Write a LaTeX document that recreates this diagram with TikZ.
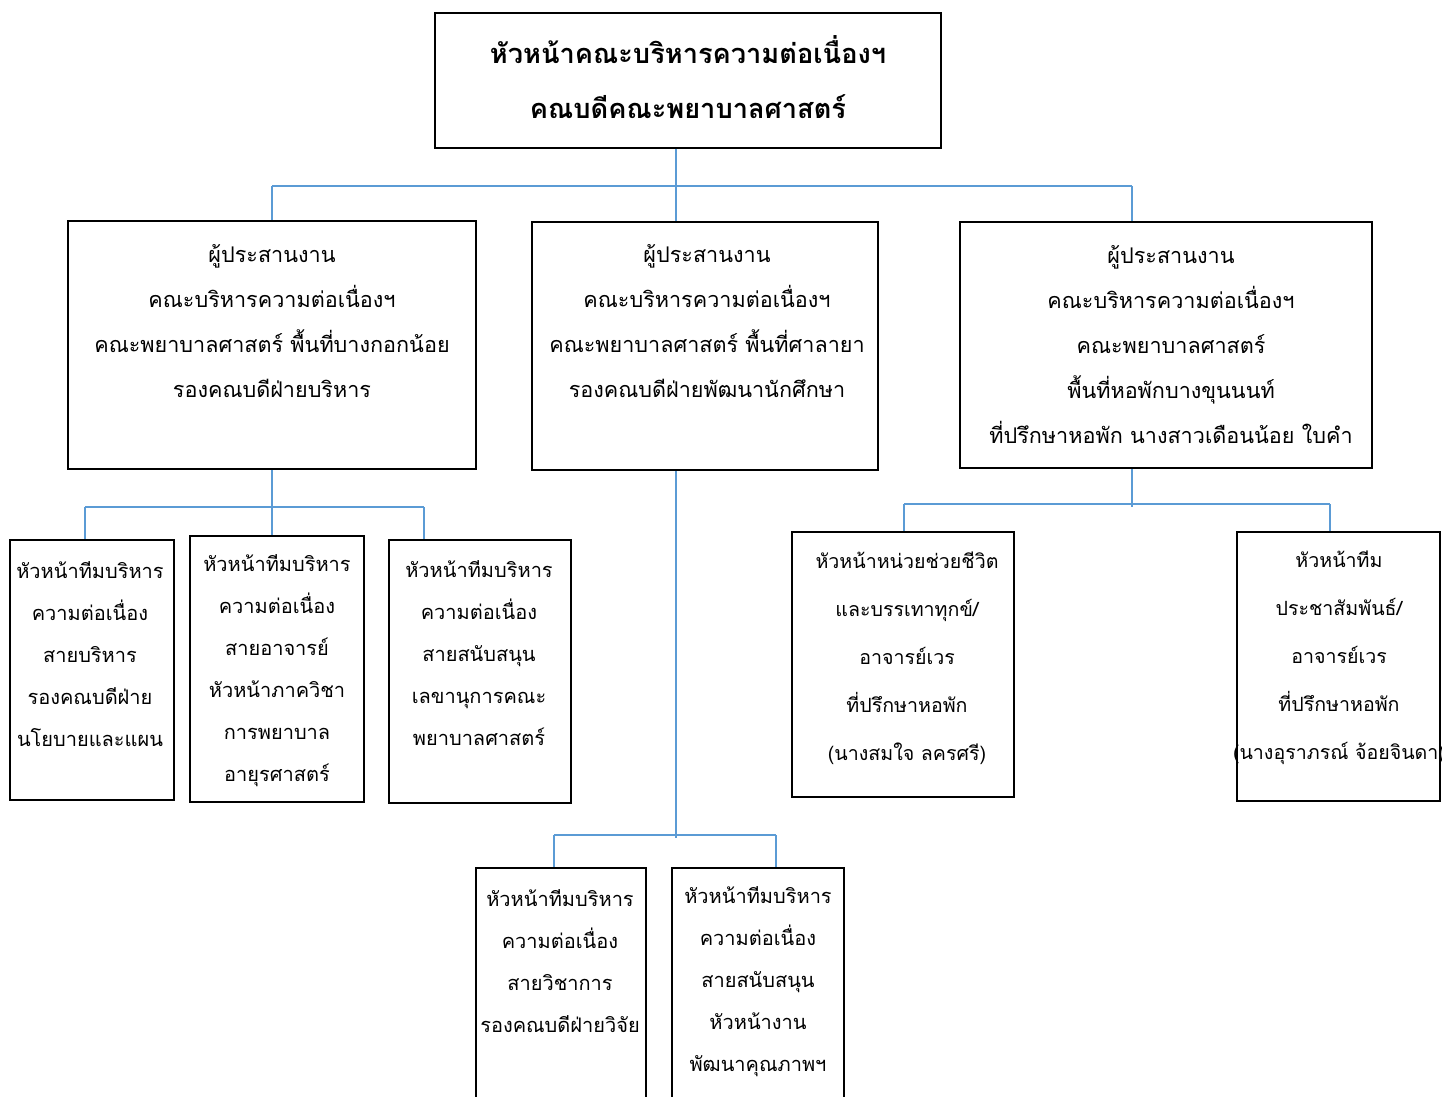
\documentclass[tikz,border=0pt]{standalone}
\usepackage{xcolor}
\usepackage{fontspec}
\usepackage{tikz}
\usetikzlibrary{positioning, fit, calc}
\newfontfamily\thaifont[Script=Thai]{Loma}
\definecolor{linkblue}{RGB}{91,155,213}

\begin{document}
\begin{tikzpicture}[x=0.5pt, y=-0.5pt,
    frame/.style={draw, line width=1pt, inner sep=0pt},
    head/.style={align=center, font=\thaifont\bfseries\fontsize{13.6}{27.5}\selectfont},
    unit/.style={align=center, font=\thaifont\fontsize{10.8}{22.5}\selectfont},
    team/.style={align=center, font=\thaifont\fontsize{10}{21}\selectfont},
    care/.style={align=center, font=\thaifont\fontsize{9.8}{24}\selectfont},
    link/.style={draw=linkblue, line width=1pt}
]
\useasboundingbox (0,0) rectangle (1442,1097);

\node[frame, fit={(435,13) (941,148)}] (top) {};
\node[head] (topt) at (688,77.5) {หัวหน้าคณะบริหารความต่อเนื่องฯ\\คณบดีคณะพยาบาลศาสตร์};

\node[frame, fit={(68,221) (476,469)}] (lb) {};
\node[unit] (lbt) at (272,321) {ผู้ประสานงาน\\คณะบริหารความต่อเนื่องฯ\\คณะพยาบาลศาสตร์ พื้นที่บางกอกน้อย\\รองคณบดีฝ่ายบริหาร};
\node[frame, fit={(532,222) (878,470)}] (mb) {};
\node[unit] (mbt) at (707,321) {ผู้ประสานงาน\\คณะบริหารความต่อเนื่องฯ\\คณะพยาบาลศาสตร์ พื้นที่ศาลายา\\รองคณบดีฝ่ายพัฒนานักศึกษา};
\node[frame, fit={(960,222) (1372,468)}] (rb) {};
\node[unit] (rbt) at (1171,344.5) {ผู้ประสานงาน\\คณะบริหารความต่อเนื่องฯ\\คณะพยาบาลศาสตร์\\พื้นที่หอพักบางขุนนนท์\\ที่ปรึกษาหอพัก นางสาวเดือนน้อย ใบคำ};

\node[frame, fit={(10,540) (174,800)}] (ta) {};
\node[team] (tat) at (90,654) {หัวหน้าทีมบริหาร\\ความต่อเนื่อง\\สายบริหาร\\รองคณบดีฝ่าย\\นโยบายและแผน};
\node[frame, fit={(190,536) (364,802)}] (tb) {};
\node[team] (tbt) at (277,671) {หัวหน้าทีมบริหาร\\ความต่อเนื่อง\\สายอาจารย์\\หัวหน้าภาควิชา\\การพยาบาล\\อายุรศาสตร์};
\node[frame, fit={(389,540) (571,803)}] (tc) {};
\node[team] (tct) at (479,653.5) {หัวหน้าทีมบริหาร\\ความต่อเนื่อง\\สายสนับสนุน\\เลขานุการคณะ\\พยาบาลศาสตร์};

\node[frame, fit={(476,868) (646,1110)}] (td) {};
\node[team] (tdt) at (560,961) {หัวหน้าทีมบริหาร\\ความต่อเนื่อง\\สายวิชาการ\\รองคณบดีฝ่ายวิจัย};
\node[frame, fit={(672,868) (844,1110)}] (te) {};
\node[team] (tet) at (758,982) {หัวหน้าทีมบริหาร\\ความต่อเนื่อง\\สายสนับสนุน\\หัวหน้างาน\\พัฒนาคุณภาพฯ};

\node[frame, fit={(792,532) (1014,797)}] (tf) {};
\node[care] (tft) at (907,658) {หัวหน้าหน่วยช่วยชีวิต\\และบรรเทาทุกข์/\\อาจารย์เวร\\ที่ปรึกษาหอพัก\\(นางสมใจ ลครศรี)};
\node[frame, fit={(1237,532) (1440,801)}] (tg) {};
\node[care] (tgt) at (1339,658) {หัวหน้าทีม\\ประชาสัมพันธ์/\\อาจารย์เวร\\ที่ปรึกษาหอพัก\\(นางอุราภรณ์ จ้อยจินดา)};

\coordinate (j0) at (676,186);
\coordinate (jl) at (272,186);
\coordinate (jr) at (1132,186);
\draw[link] (top.south -| j0) -- (mb.north -| j0);
\draw[link] (jl) -- (jr);
\draw[link] (jl) -- (lb.north);
\draw[link] (jr) -- (rb.north -| jr);

\coordinate (kl) at (85,507);
\coordinate (kr) at (424,507);
\draw[link] (lb.south) -- (tb.north -| lb.south);
\draw[link] (kl) -- (kr);
\draw[link] (kl) -- (ta.north -| kl);
\draw[link] (kr) -- (tc.north -| kr);

\coordinate (ml) at (554,835);
\coordinate (mr) at (776,835);
\draw[link] (mb.south -| j0) -- (676,838);
\draw[link] (ml) -- (mr);
\draw[link] (ml) -- (td.north -| ml);
\draw[link] (mr) -- (te.north -| mr);

\coordinate (rl) at (904,504);
\coordinate (rr) at (1330,504);
\draw[link] (rb.south -| jr) -- (1132,507);
\draw[link] (rl) -- (rr);
\draw[link] (rl) -- (tf.north -| rl);
\draw[link] (rr) -- (tg.north -| rr);
\end{tikzpicture}
\end{document}
